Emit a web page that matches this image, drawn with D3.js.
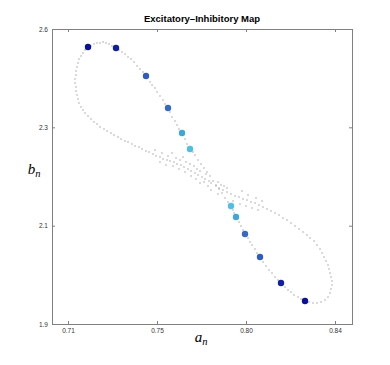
<!DOCTYPE html>
<html>

<head>
  <meta charset="utf-8">
  <title>Excitatory-Inhibitory Map</title>
  <script src="https://d3js.org/d3.v7.min.js"></script>
  <style>
    body { margin: 0; background: #fff; }
    svg { display: block; }
    .tick text { font-family: "Liberation Sans", Arial, sans-serif; font-size: 6.5px; fill: #333; }
  </style>
</head>

<body>
  <svg width="390" height="365"></svg>
  <script>
    // tick positions and their printed labels
    var xTicks = [0.7095, 0.754, 0.7985, 0.843];
    var xTickLabels = ["0.71", "0.75", "0.80", "0.84"];
    var yTicks = [1.9, 2.1333, 2.3667, 2.6];
    var yTickLabels = ["1.9", "2.1", "2.3", "2.6"];

    // orbit of the map (gray trail), [a_n, b_n]
    var trail = [
      [0.7895, 2.1895], [0.788, 2.199], [0.7865, 2.2108], [0.785, 2.2203], [0.7835, 2.2298],
      [0.782, 2.2393], [0.7805, 2.2512], [0.779, 2.2607], [0.7775, 2.2702], [0.776, 2.2797],
      [0.7745, 2.2892], [0.773, 2.301], [0.772, 2.3081], [0.769, 2.3271], [0.768, 2.339],
      [0.765, 2.3627], [0.764, 2.3722], [0.763, 2.3817], [0.7615, 2.3912], [0.7605, 2.4031],
      [0.758, 2.422], [0.757, 2.4315], [0.7555, 2.441], [0.754, 2.4505], [0.753, 2.46],
      [0.7515, 2.4671], [0.7505, 2.4742], [0.747, 2.498], [0.7455, 2.5051], [0.744, 2.5122],
      [0.7425, 2.5217], [0.741, 2.5288], [0.7395, 2.5336], [0.738, 2.5407], [0.7365, 2.5454],
      [0.735, 2.5502], [0.7315, 2.5597], [0.73, 2.5644], [0.7285, 2.5668], [0.727, 2.5692],
      [0.7255, 2.5668], [0.724, 2.5668], [0.7225, 2.5644], [0.721, 2.5597], [0.718, 2.5502],
      [0.717, 2.5431], [0.716, 2.5359], [0.715, 2.5288], [0.7145, 2.5193], [0.714, 2.5098],
      [0.7135, 2.5003], [0.7135, 2.4908], [0.713, 2.4814], [0.713, 2.4719], [0.7135, 2.4624],
      [0.7135, 2.4529], [0.714, 2.4434], [0.7145, 2.4339], [0.715, 2.4244], [0.716, 2.4149],
      [0.717, 2.4078], [0.718, 2.4007], [0.7195, 2.3936], [0.721, 2.3864], [0.7225, 2.3793],
      [0.724, 2.3746], [0.7255, 2.3675], [0.7275, 2.3627], [0.729, 2.358], [0.731, 2.3532],
      [0.7325, 2.3485], [0.7345, 2.3437], [0.736, 2.339], [0.738, 2.3342], [0.7395, 2.3319],
      [0.7415, 2.3271], [0.743, 2.3224], [0.745, 2.32], [0.7465, 2.3153], [0.7485, 2.3105],
      [0.75, 2.3081], [0.752, 2.3034], [0.7535, 2.2986], [0.7555, 2.2963], [0.757, 2.2915],
      [0.759, 2.2892], [0.7605, 2.2868], [0.7625, 2.2844], [0.764, 2.2797], [0.766, 2.2773],
      [0.7675, 2.2725], [0.7695, 2.2678], [0.771, 2.2631], [0.773, 2.2583], [0.7745, 2.2536],
      [0.7765, 2.2488], [0.778, 2.2441], [0.78, 2.2393], [0.781, 2.2346], [0.7835, 2.2275],
      [0.785, 2.2227], [0.787, 2.218], [0.789, 2.2132], [0.791, 2.2085], [0.793, 2.2037],
      [0.795, 2.2014], [0.797, 2.1966], [0.799, 2.1942], [0.801, 2.1895], [0.803, 2.1871],
      [0.805, 2.1824], [0.807, 2.1776], [0.809, 2.1729], [0.811, 2.1681], [0.813, 2.1634],
      [0.815, 2.1586], [0.817, 2.1515], [0.819, 2.1468], [0.821, 2.1397], [0.823, 2.1325],
      [0.825, 2.1254], [0.827, 2.1183], [0.829, 2.1112], [0.8305, 2.1041], [0.8325, 2.0969],
      [0.834, 2.0875], [0.8355, 2.078], [0.8365, 2.0685], [0.8375, 2.059], [0.8385, 2.0495],
      [0.8395, 2.04], [0.84, 2.0305], [0.8405, 2.021], [0.841, 2.0115], [0.8415, 2.002],
      [0.8415, 1.9925], [0.841, 1.983], [0.8405, 1.9736], [0.8395, 1.9641], [0.838, 1.9569],
      [0.836, 1.9522], [0.834, 1.9498], [0.832, 1.9498], [0.83, 1.9522], [0.826, 1.9593],
      [0.8245, 1.9641], [0.8225, 1.9688], [0.821, 1.9759], [0.8195, 1.9807], [0.818, 1.9878],
      [0.8145, 2.0044], [0.813, 2.0115], [0.8115, 2.021], [0.81, 2.0281], [0.8085, 2.0376],
      [0.807, 2.0471], [0.804, 2.0685], [0.803, 2.078], [0.8015, 2.0875], [0.8005, 2.0946],
      [0.7995, 2.1041], [0.797, 2.1231], [0.796, 2.1325], [0.795, 2.142], [0.7925, 2.1634],
      [0.792, 2.1705],
      // scatter around the crossing
      [0.753, 2.3129], [0.7565, 2.3058], [0.7595, 2.2986], [0.7615, 2.3058], [0.7635, 2.2939],
      [0.7655, 2.2892], [0.767, 2.2963], [0.7685, 2.2844], [0.7705, 2.2797], [0.7725, 2.2749],
      [0.774, 2.2678], [0.7755, 2.2631], [0.7785, 2.2559], [0.7795, 2.2275], [0.781, 2.218],
      [0.7775, 2.2369], [0.7845, 2.2369], [0.786, 2.2298], [0.7875, 2.2275], [0.7845, 2.2085],
      [0.789, 2.2227], [0.792, 2.1919], [0.7955, 2.1847], [0.7985, 2.18], [0.8015, 2.1753],
      [0.8045, 2.1705], [0.7965, 2.2156], [0.7995, 2.2061], [0.8035, 2.199], [0.8065, 2.1919],
      [0.7555, 2.2844], [0.7585, 2.2773], [0.762, 2.2749], [0.765, 2.2678], [0.768, 2.2607],
      [0.771, 2.2512], [0.7735, 2.2441], [0.7755, 2.2346]
    ];

    // highlighted iterates
    var dotsA = [0.7195, 0.7335, 0.7485, 0.7595, 0.7665, 0.7705, 0.791, 0.7935, 0.798, 0.8055, 0.816, 0.828];
    var dotsB = [2.5573, 2.5549, 2.4885, 2.4125, 2.3532, 2.3153, 2.18, 2.1539, 2.1136, 2.059, 1.9973, 1.9546];
    var dotColors = ["#0a0f9e", "#0f1ea6", "#2c5cc6", "#3468cc", "#3aa8dc", "#4cc0e6",
                     "#4cc0e6", "#3aa8dc", "#3468cc", "#2c5cc6", "#0f1ea6", "#0a0f9e"];

    var svg = d3.select("svg");
    var plotLeft = 52, plotRight = 352, plotTop = 29, plotBottom = 324;

    var x = d3.scaleLinear().domain([0.7015, 0.8515]).range([plotLeft, plotRight]);
    var y = d3.scaleLinear().domain([1.9, 2.6]).range([plotBottom, plotTop]);

    // axes, inward ticks on all sides
    var axisColor = "#808080";
    function styleAxis(g) {
      g.select(".domain").remove();
      g.selectAll(".tick line").attr("stroke", axisColor);
    }

    svg.append("g")
      .attr("transform", "translate(0," + plotBottom + ")")
      .call(d3.axisBottom(x).tickValues(xTicks).tickFormat(function (d, i) { return xTickLabels[i]; })
        .tickSizeInner(-3).tickSizeOuter(0).tickPadding(4.5))
      .call(styleAxis);

    svg.append("g")
      .attr("transform", "translate(0," + plotTop + ")")
      .call(d3.axisTop(x).tickValues(xTicks).tickFormat("").tickSizeInner(-3).tickSizeOuter(0))
      .call(styleAxis);

    svg.append("g")
      .attr("transform", "translate(" + plotLeft + ",0)")
      .call(d3.axisLeft(y).tickValues(yTicks).tickFormat(function (d, i) { return yTickLabels[i]; })
        .tickSizeInner(-3).tickSizeOuter(0).tickPadding(4))
      .call(styleAxis);

    svg.append("g")
      .attr("transform", "translate(" + plotRight + ",0)")
      .call(d3.axisRight(y).tickValues(yTicks).tickFormat("").tickSizeInner(-3).tickSizeOuter(0))
      .call(styleAxis);

    svg.append("rect")
      .attr("x", plotLeft + 0.5)
      .attr("y", plotTop + 0.5)
      .attr("width", plotRight - plotLeft)
      .attr("height", plotBottom - plotTop)
      .attr("fill", "none")
      .attr("stroke", axisColor)
      .attr("stroke-width", 1);

    // gray trail
    svg.append("g").selectAll("circle")
      .data(trail)
      .enter()
      .append("circle")
      .attr("cx", function (d) { return x(d[0]); })
      .attr("cy", function (d) { return y(d[1]); })
      .attr("r", 0.7)
      .attr("fill", "#9a9a9a");

    // coloured iterates
    svg.append("g").selectAll("circle")
      .data(dotsA)
      .enter()
      .append("circle")
      .attr("cx", function (d) { return x(d); })
      .attr("cy", function (d, i) { return y(dotsB[i]); })
      .attr("r", 3.2)
      .attr("fill", function (d, i) { return dotColors[i]; });

    // title
    svg.append("text")
      .attr("x", (plotLeft + plotRight) / 2)
      .attr("y", 22)
      .attr("text-anchor", "middle")
      .style("font-family", "'Liberation Sans', Arial, sans-serif")
      .style("font-weight", "bold")
      .style("font-size", "9.5px")
      .text("Excitatory–Inhibitory Map");

    // axis labels
    var xl = svg.append("text")
      .attr("x", 201)
      .attr("y", 342)
      .attr("text-anchor", "middle")
      .style("font-family", "'Liberation Serif', 'DejaVu Serif', serif")
      .style("font-style", "italic");
    xl.append("tspan").style("font-size", "15px").text("a");
    xl.append("tspan").attr("dy", 3).style("font-size", "10.5px").text("n");

    var yl = svg.append("text")
      .attr("x", 34)
      .attr("y", 174)
      .attr("text-anchor", "middle")
      .style("font-family", "'Liberation Serif', 'DejaVu Serif', serif")
      .style("font-style", "italic");
    yl.append("tspan").style("font-size", "15px").text("b");
    yl.append("tspan").attr("dy", 3).style("font-size", "10.5px").text("n");
  </script>
</body>

</html>
